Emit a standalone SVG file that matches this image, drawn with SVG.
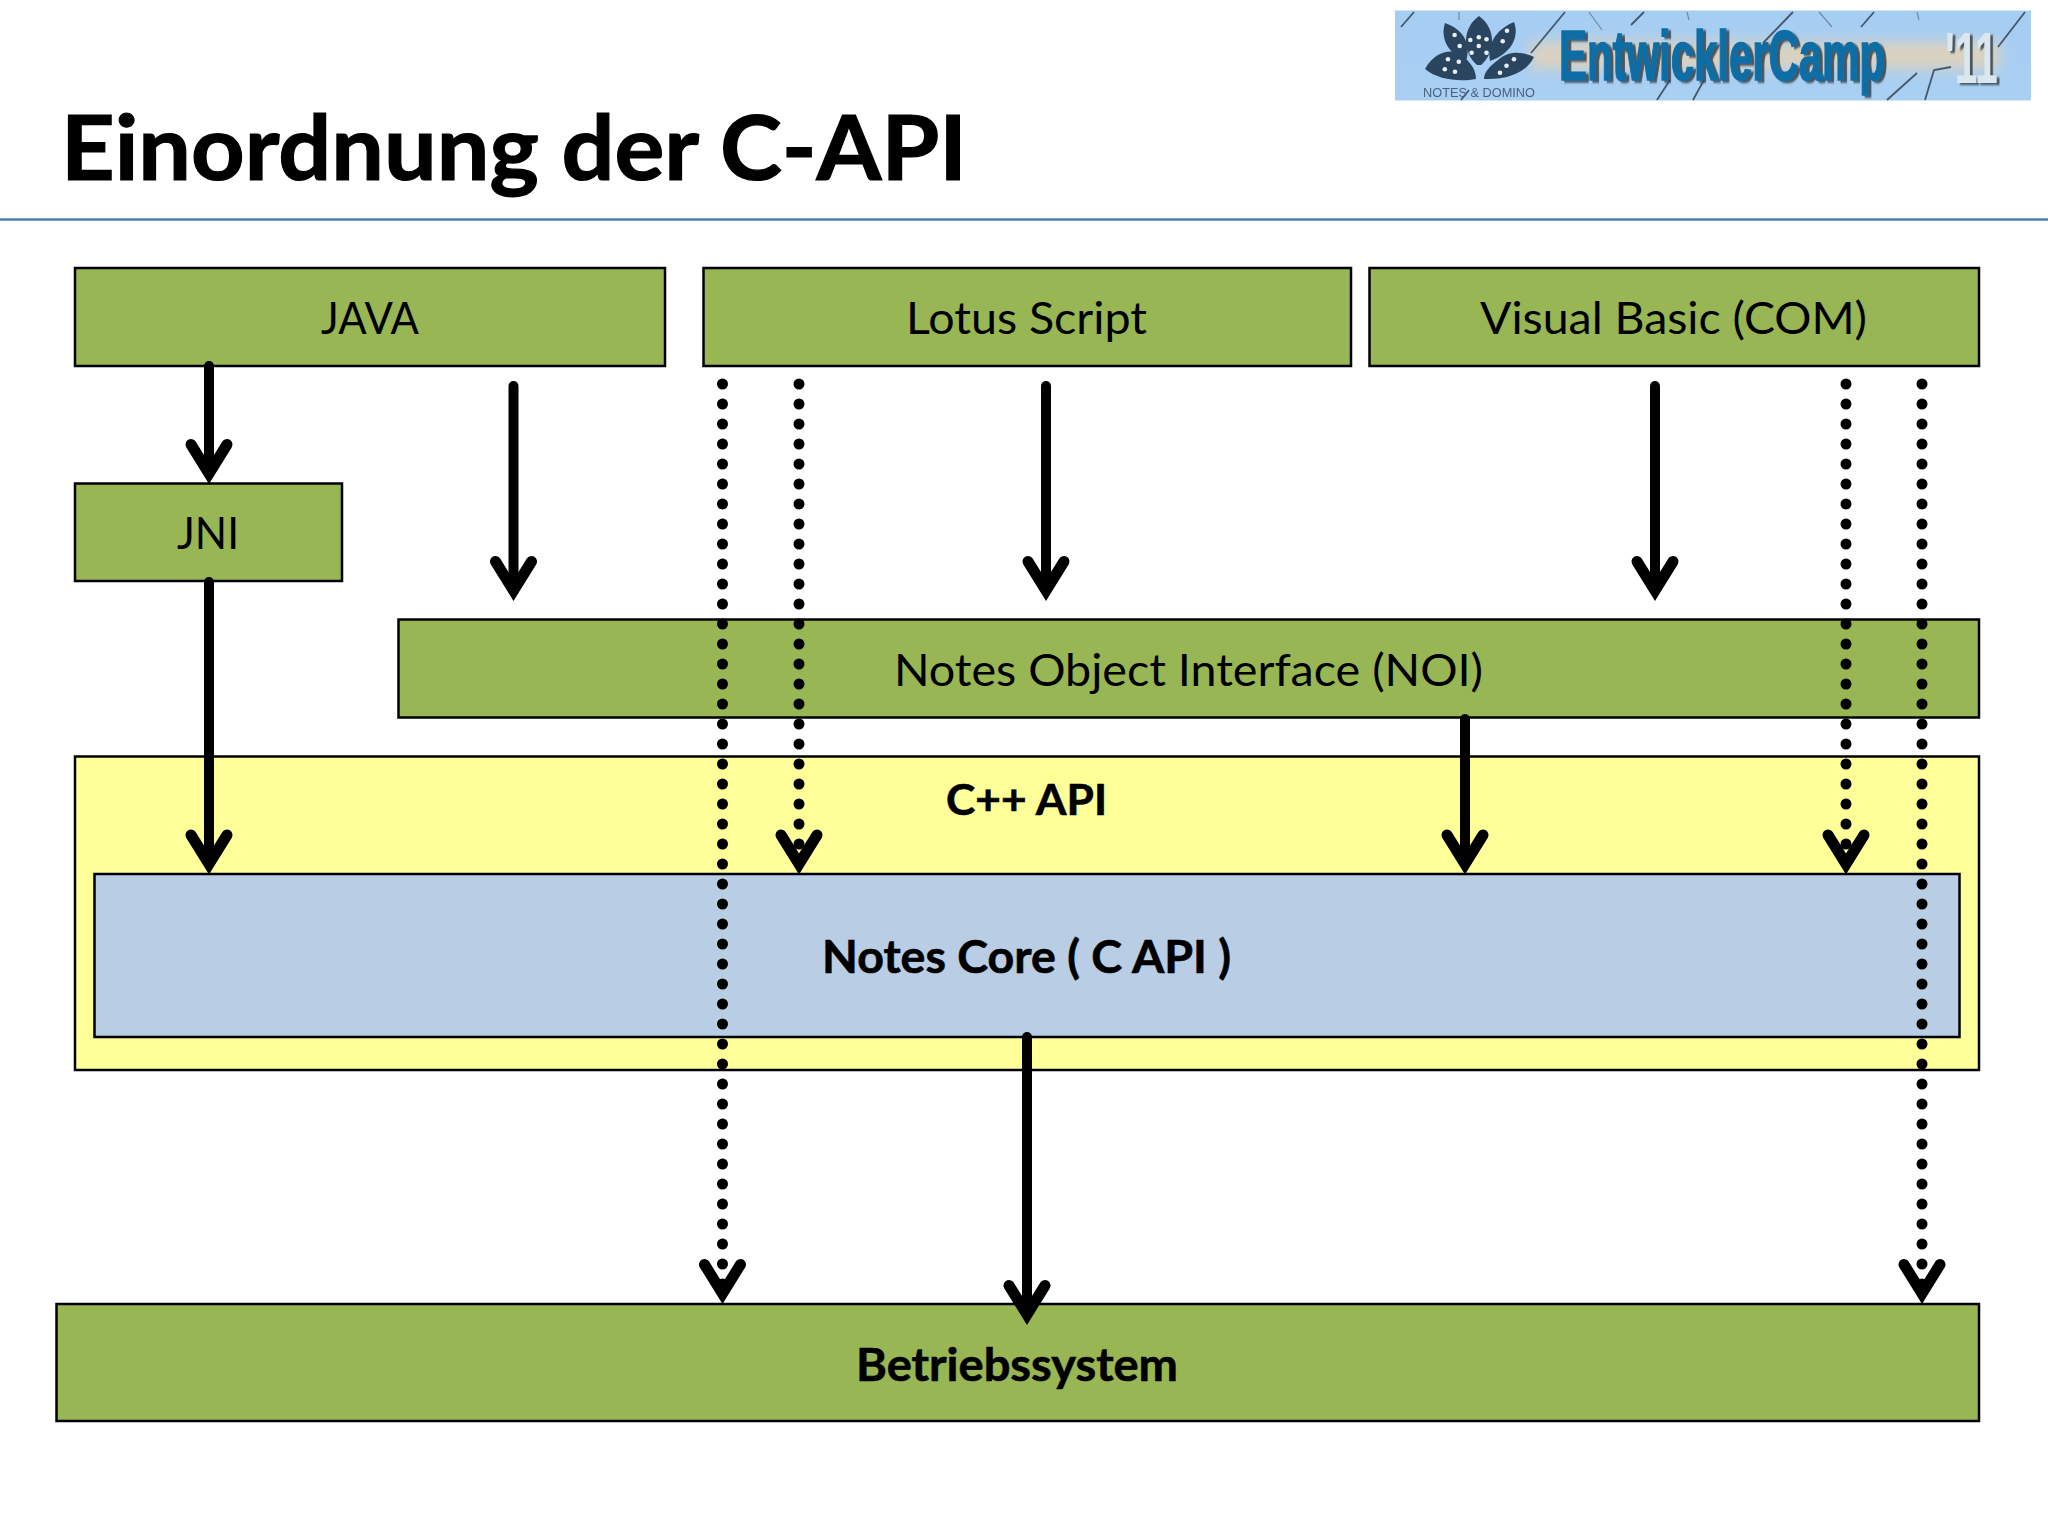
<svg xmlns="http://www.w3.org/2000/svg" width="2048" height="1536" viewBox="0 0 2048 1536">
<style>
.t{font-family:Lato,"Noto Sans",sans-serif;fill:#000;font-size:45px}
.b{font-weight:700;stroke:#000;stroke-width:.6}
.box{stroke:#000;stroke-width:2.5}
.g{fill:#98b653}
.y{fill:#ffff99}
.bl{fill:#b9cde5}
.arrow{fill:none;stroke:#000;stroke-width:10;stroke-linecap:round}
.dot{stroke-dasharray:0 20;stroke-width:11}
.hd{fill:none;stroke:#000;stroke-width:11;stroke-linecap:round;stroke-linejoin:miter;stroke-miterlimit:4}
.pet{fill:#2b4560}
.wd{fill:#e8eef2}
.crk{fill:none;stroke:#2a3a4a;stroke-width:1.8;opacity:.8}
.crl{fill:none;stroke:#6f8aa6;stroke-width:1.2}
.lg{font-family:"Liberation Sans",Arial,sans-serif;font-weight:700}
</style>
<defs>
<marker id="head" markerUnits="userSpaceOnUse" markerWidth="60" markerHeight="64" viewBox="-30 -50 60 64" refX="0" refY="0" orient="0">
<path class="hd" d="M-18 -29L0 0L18 -29"/>
</marker>
<linearGradient id="sky" x1="0" y1="0" x2="0" y2="1">
<stop offset="0" stop-color="#a6cdf2"/><stop offset="1" stop-color="#a9cff3"/>
</linearGradient>
<filter id="bb" x="-10%" y="-50%" width="120%" height="200%"><feGaussianBlur stdDeviation="7"/></filter>
<filter id="soft" x="-2%" y="-5%" width="104%" height="110%"><feGaussianBlur stdDeviation="0.7"/></filter>
<filter id="sh" x="-5%" y="-10%" width="112%" height="125%"><feDropShadow dx="5" dy="2" stdDeviation="1.2" flood-color="#33404c" flood-opacity=".85"/></filter>
</defs>
<rect width="2048" height="1536" fill="#fff"/>

<g id="logo">
<g filter="url(#soft)">
<rect x="1395" y="10.500" width="636" height="90" fill="url(#sky)"/>
<rect x="1530" y="42" width="470" height="27" fill="#dcd2c0" filter="url(#bb)"/>
<path class="crk" d="M1414 12L1401 27M1565 12L1531 53M1644 12L1631 25M1793 12L1763 43M1874 12L1861 27M2025 12L1998 47M1670 80L1657 100M1704 80L1693 100M1917 73L1887 100M1951 67L1934 70L1925 100M1469 90L1461 100"/>
<path class="crl" d="M1459 12L1459 20M1589 12L1602 30M1687 12L1689 20M1819 12L1832 27M1917 12L1919 20"/>
<g id="lotus">
<path class="pet" d="M1479 16C1462 28 1462 52 1477 65L1481 65C1496 52 1496 28 1479 16Z"/>
<path class="pet" d="M1445 23C1440 38 1448 54 1466 61C1471 45 1465 30 1445 23Z"/>
<path class="pet" d="M1514 22C1520 38 1510 54 1490 61C1487 45 1495 30 1514 22Z"/>
<path class="pet" d="M1425 69C1433 54 1446 50 1455 52C1468 58 1476 68 1476 79C1460 82 1438 80 1425 69Z"/>
<path class="pet" d="M1534 57C1520 50 1506 52 1498 60C1490 66 1484 72 1484 79C1505 80 1526 74 1534 57Z"/>
<g class="wd">
<circle cx="1454.6" cy="35" r="2.3"/><circle cx="1459.7" cy="46" r="2.3"/><circle cx="1507" cy="30.7" r="2.3"/><circle cx="1502.7" cy="41.3" r="2.3"/>
<circle cx="1478.8" cy="37.3" r="2.3"/><circle cx="1470.3" cy="40" r="2.3"/><circle cx="1486.5" cy="39.3" r="2.3"/><circle cx="1478.8" cy="46" r="2.3"/><circle cx="1471.6" cy="52.7" r="2.3"/><circle cx="1486.5" cy="52.7" r="2.3"/>
<circle cx="1448" cy="59.3" r="2.3"/><circle cx="1458.8" cy="61.7" r="2.3"/><circle cx="1444.8" cy="69.3" r="2.3"/><circle cx="1455" cy="71.7" r="2.3"/>
<circle cx="1514" cy="59.3" r="2.3"/><circle cx="1506.5" cy="65.7" r="2.3"/><circle cx="1500" cy="72.7" r="2.3"/>
</g>
</g>
<text class="lg" x="1423" y="96.500" font-size="13" textLength="112" lengthAdjust="spacingAndGlyphs" fill="#4a6280" style="font-weight:400">NOTES &amp; DOMINO</text>
<text class="lg" transform="translate(1559 80) scale(.59 1)" font-size="71" fill="#0f6ea6" stroke="#0f6ea6" stroke-width="1.5" filter="url(#sh)">EntwicklerCamp</text>
<text class="lg" transform="translate(1945 83) scale(.558 1)" font-size="73" fill="#dbe7ee" filter="url(#sh)">'11</text>
</g>
</g>

<g id="title">
<text class="t b" x="61" y="180" style="font-size:90px;stroke-width:1.2" textLength="906" lengthAdjust="spacingAndGlyphs">Einordnung der C-API</text>
<line x1="0" y1="219.500" x2="2048" y2="219.500" stroke="#4a7ebb" stroke-width="2.5"/>
</g>

<g id="node-java"><rect class="box g" x="75" y="268" width="590" height="98"/><text class="t" x="321" y="334" textLength="98" lengthAdjust="spacingAndGlyphs">JAVA</text></g>
<g id="node-lotus-script"><rect class="box g" x="703.500" y="268" width="647.500" height="98"/><text class="t" x="906" y="334" textLength="241" lengthAdjust="spacingAndGlyphs">Lotus Script</text></g>
<g id="node-visual-basic"><rect class="box g" x="1369.500" y="268" width="609.500" height="98"/><text class="t" x="1480" y="334" textLength="387" lengthAdjust="spacingAndGlyphs">Visual Basic (COM)</text></g>
<g id="node-jni"><rect class="box g" x="75" y="483.500" width="267" height="97.500"/><text class="t" x="177" y="549" textLength="62" lengthAdjust="spacingAndGlyphs">JNI</text></g>
<g id="node-noi"><rect class="box g" x="398.500" y="619.500" width="1580.500" height="98"/><text class="t" x="894" y="686" textLength="589" lengthAdjust="spacingAndGlyphs">Notes Object Interface (NOI)</text></g>
<g id="node-cpp-api"><rect class="box y" x="75" y="756.500" width="1904" height="313.500"/><text class="t b" x="946" y="815" style="font-size:42px" textLength="161" lengthAdjust="spacingAndGlyphs">C++ API</text></g>
<g id="node-notes-core"><rect class="box bl" x="94.500" y="874" width="1865" height="163"/><text class="t b" x="822" y="973" textLength="409" lengthAdjust="spacingAndGlyphs">Notes Core ( C API )</text></g>
<g id="node-os"><rect class="box g" x="56.500" y="1304" width="1922.500" height="117"/><text class="t b" x="856" y="1381" textLength="322" lengthAdjust="spacingAndGlyphs">Betriebssystem</text></g>

<g id="connectors">
<line class="arrow" x1="209" y1="366" x2="209" y2="473.500" marker-end="url(#head)"/>
<line class="arrow" x1="513.500" y1="386" x2="513.500" y2="590.500" marker-end="url(#head)"/>
<line class="arrow" x1="1046" y1="386" x2="1046" y2="590.500" marker-end="url(#head)"/>
<line class="arrow" x1="1655" y1="386" x2="1655" y2="590.500" marker-end="url(#head)"/>
<line class="arrow" x1="209" y1="582" x2="209" y2="864" marker-end="url(#head)"/>
<line class="arrow" x1="1465" y1="719" x2="1465" y2="864" marker-end="url(#head)"/>
<line class="arrow" x1="1027" y1="1037" x2="1027" y2="1314.500" marker-end="url(#head)"/>
<line class="arrow dot" x1="722.500" y1="384" x2="722.500" y2="1293.500" marker-end="url(#head)"/>
<line class="arrow dot" x1="799" y1="384" x2="799" y2="864" marker-end="url(#head)"/>
<line class="arrow dot" x1="1846" y1="384" x2="1846" y2="864" marker-end="url(#head)"/>
<line class="arrow dot" x1="1922" y1="384" x2="1922" y2="1293.500" marker-end="url(#head)"/>
</g>
</svg>
